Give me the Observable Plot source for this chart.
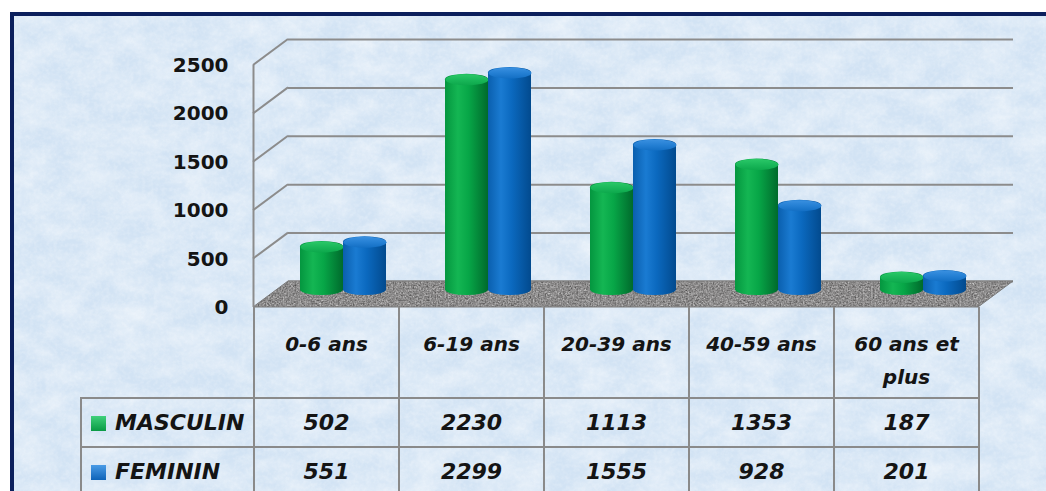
<!DOCTYPE html>
<html>
<head>
<meta charset="utf-8">
<script src="https://cdn.jsdelivr.net/npm/d3@7"></script>
<script src="https://cdn.jsdelivr.net/npm/@observablehq/plot@0.6"></script>
<style>
  html, body { margin: 0; padding: 0; background: #ffffff; }
  #page { position: relative; width: 1046px; height: 491px; overflow: hidden; background: #fff; }
  #frame { position: absolute; left: 10px; top: 12px; width: 1100px; height: 600px;
           border: 4px solid #0b1f5c; box-sizing: border-box; }
  #chart { position: absolute; left: 0; top: 0; }
  #table { position: absolute; left: 80px; top: 307px; border-collapse: collapse; table-layout: fixed;
           font-family: "DejaVu Sans", sans-serif; font-weight: bold; font-style: italic; color: #141414; }
  #table td { border: 2px solid #8a8a8a; text-align: center; padding: 0; }
  #table tr.hdr td { border-top: none; height: 91px; vertical-align: top; font-size: 20px;
                     line-height: 33px; padding: 21px 8px 0 8px; box-sizing: border-box; }
  #table tr.hdr td.blank { border: none; }
  #table tr.row td { height: 47px; font-size: 22px; }
  #table td.leg { text-align: left; padding-left: 9px; font-size: 22px; white-space: nowrap; }
  .sw { display: inline-block; width: 15px; height: 15px; margin-right: 9px; vertical-align: -1px; }
</style>
</head>
<body>
<div id="page">
  <div id="frame"></div>
  <div id="chart"></div>
</div>
<script>
// ---- Data ----
const categories = ["0-6 ans", "6-19 ans", "20-39 ans", "40-59 ans", "60 ans et plus"];
const seriesNames = ["MASCULIN", "FEMININ"];
const masculin = [502, 2230, 1113, 1353, 187];
const feminin = [551, 2299, 1555, 928, 201];
const yTicks = [0, 500, 1000, 1500, 2000, 2500];

const data = categories.flatMap((c, i) => [
  {cat: c, sex: seriesNames[0], value: masculin[i]},
  {cat: c, sex: seriesNames[1], value: feminin[i]}
]);

// ---- Layout constants ----
const W = 1046, H = 320, mL = 253, mR = 68, mT = 65, mB = 13;
const bw = (W - mL - mR) / categories.length;   // band width
const barW = 43;
const depthX = 35, depthY = -26;                 // 3D depth of the wall / floor
const midX = 17.5, midY = -12;                   // bars sit at mid depth

// background texture
const bgSvg = `<svg xmlns='http://www.w3.org/2000/svg' width='1100' height='600'><filter id='f' x='0' y='0' width='100%' height='100%' color-interpolation-filters='sRGB'><feTurbulence type='fractalNoise' baseFrequency='0.03 0.045' numOctaves='4' seed='7'/><feColorMatrix type='matrix' values='0 0 0 0 1  0 0 0 0 1  0 0 0 0 1  1.5 0 0 0 -0.45'/></filter><filter id='g' x='0' y='0' width='100%' height='100%' color-interpolation-filters='sRGB'><feTurbulence type='fractalNoise' baseFrequency='0.25' numOctaves='2' seed='11'/><feColorMatrix type='matrix' values='0 0 0 0 1  0 0 0 0 1  0 0 0 0 1  1.2 0 0 0 -0.45'/></filter><rect width='1100' height='600' fill='#d2e3f4'/><rect width='1100' height='600' filter='url(#f)' opacity='0.55'/><rect width='1100' height='600' filter='url(#g)' opacity='0.35'/></svg>`;
document.getElementById("frame").style.background =
  `url("data:image/svg+xml;charset=utf-8,${encodeURIComponent(bgSvg)}")`;

// elliptical cap symbol for cylinders
const capSymbol = {
  draw(ctx) {
    const rx = barW / 2, ry = 5.5, k = 0.5523;
    ctx.moveTo(-rx, 0);
    ctx.bezierCurveTo(-rx, -ry * k, -rx * k, -ry, 0, -ry);
    ctx.bezierCurveTo(rx * k, -ry, rx, -ry * k, rx, 0);
    ctx.bezierCurveTo(rx, ry * k, rx * k, ry, 0, ry);
    ctx.bezierCurveTo(-rx * k, ry, -rx, ry * k, -rx, 0);
    ctx.closePath();
  }
};

const inset = (bw - barW) / 2;
const offsets = {MASCULIN: midX - barW / 2, FEMININ: midX + barW / 2};
const bodyFill = {MASCULIN: "url(#gGreen)", FEMININ: "url(#gBlue)"};
const capFill = {MASCULIN: "url(#cGreen)", FEMININ: "url(#cBlue)"};

const seriesMarks = seriesNames.flatMap(s => {
  const d = data.filter(r => r.sex === s);
  return [
    Plot.barY(d, {x: "cat", y: "value", fill: bodyFill[s], insetLeft: inset, insetRight: inset,
      insetTop: -5.5, dx: offsets[s], dy: midY, rx: barW / 2, ry: 5.5}),
    Plot.dot(d, {x: "cat", y: "value", symbol: capSymbol, r: 5, fill: capFill[s], stroke: "none",
      dx: offsets[s], dy: midY})
  ];
});

const plot = Plot.plot({
  width: W, height: H,
  marginLeft: mL, marginRight: mR, marginTop: mT, marginBottom: mB,
  style: {background: "transparent", fontFamily: "DejaVu Sans, sans-serif", fontSize: "20px",
          fontWeight: "bold", color: "#141414", overflow: "visible"},
  x: {domain: categories, padding: 0, axis: null},
  y: {domain: [0, 2500], ticks: yTicks, tickSize: 0, tickPadding: 25, label: null,
      tickFormat: d => String(d)},
  marks: [
    Plot.ruleY(yTicks, {dx: depthX, dy: depthY, stroke: "#8c8c8c", strokeWidth: 2}),
    ...seriesMarks,
    Plot.ruleX([categories[0]], {dx: -bw / 2, y1: 0, y2: 2500, stroke: "#8c8c8c", strokeWidth: 2})
  ]
});

// ---- 3D decorations drawn with the plot's own scales ----
const svg = d3.select(plot.tagName.toLowerCase() === "svg" ? plot : plot.querySelector("svg"));
const defs = svg.insert("defs", ":first-child");
function grad(id, stops, vertical) {
  const g = defs.append("linearGradient").attr("id", id)
    .attr("x1", 0).attr("y1", 0).attr("x2", vertical ? 0 : 1).attr("y2", vertical ? 1 : 0);
  stops.forEach(([o, c]) => g.append("stop").attr("offset", o).attr("stop-color", c));
}
grad("gGreen", [[0, "#04963f"], [0.3, "#14b653"], [0.55, "#07a647"], [1, "#006a2c"]]);
grad("gBlue",  [[0, "#0a5fae"], [0.3, "#1a7bd2"], [0.55, "#0b69bf"], [1, "#024a8e"]]);
grad("cGreen", [[0, "#2bc868"], [0.5, "#1ab85a"], [1, "#0da84c"]], true);
grad("cBlue",  [[0, "#3a90e0"], [0.5, "#2580d4"], [1, "#136fc4"]], true);
const granite = defs.append("filter").attr("id", "granite").attr("x", 0).attr("y", 0)
  .attr("width", "100%").attr("height", "100%").attr("color-interpolation-filters", "sRGB");
granite.append("feTurbulence").attr("type", "fractalNoise").attr("baseFrequency", 0.6)
  .attr("numOctaves", 3).attr("seed", 3).attr("result", "t");
granite.append("feColorMatrix").attr("in", "t").attr("type", "matrix")
  .attr("values", "0.45 0.35 0 0 0.15  0.45 0.35 0 0 0.145  0.45 0.35 0 0 0.145  0 0 0 0 1").attr("result", "g");
granite.append("feComposite").attr("in", "g").attr("in2", "SourceGraphic").attr("operator", "in");

const y = plot.scale("y");
const x0 = mL, x1 = W - mR, yb = y.apply(0);
const firstBar = plot.querySelector('g[aria-label="bar"]');
const deco = svg.insert("g", () => firstBar);
deco.selectAll("line.diag").data(yTicks.filter(t => t > 0)).join("line")
  .attr("x1", x0).attr("y1", t => y.apply(t))
  .attr("x2", x0 + depthX).attr("y2", t => y.apply(t) + depthY)
  .attr("stroke", "#8c8c8c").attr("stroke-width", 2);
const floorPts = [[x0, yb], [x1, yb], [x1 + depthX, yb + depthY], [x0 + depthX, yb + depthY]];
deco.append("polygon").attr("points", floorPts.map(p => p.join(",")).join(" "))
  .attr("fill", "#8a8a8a").attr("filter", "url(#granite)");
deco.append("polygon").attr("points", floorPts.map(p => p.join(",")).join(" "))
  .attr("fill", "none").attr("stroke", "#7a7a7a").attr("stroke-width", 1);

document.getElementById("chart").appendChild(plot);

// ---- Data table under the chart ----
const xs = plot.scale("x");
const table = document.createElement("table");
table.id = "table";
table.style.left = (xs.range[0] - 173) + "px";
const col = document.createElement("colgroup");
[173, ...categories.map(() => xs.bandwidth)].forEach(w => {
  const c = document.createElement("col"); c.style.width = w + "px"; col.appendChild(c);
});
table.appendChild(col);
const hdr = table.insertRow(); hdr.className = "hdr";
hdr.insertCell().className = "blank";
categories.forEach(c => { hdr.insertCell().textContent = c; });
const swatch = {MASCULIN: "linear-gradient(#3fd07a, #0a9a45)", FEMININ: "linear-gradient(#4a9be6, #0d63b8)"};
[[seriesNames[0], masculin], [seriesNames[1], feminin]].forEach(([name, vals]) => {
  const r = table.insertRow(); r.className = "row";
  const lc = r.insertCell(); lc.className = "leg";
  const sw = document.createElement("span"); sw.className = "sw"; sw.style.background = swatch[name];
  lc.appendChild(sw); lc.appendChild(document.createTextNode(name));
  vals.forEach(v => { r.insertCell().textContent = v; });
});
document.getElementById("page").appendChild(table);
</script>
</body>
</html>
